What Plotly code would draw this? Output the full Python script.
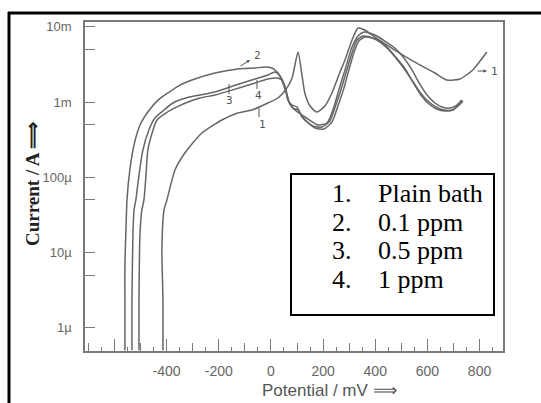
import plotly.graph_objects as go

# ---------------- data ----------------
potential_plain = [-414, -414, -418, -410, -399, -368, -330, -265, -188, -127, -73, -12, 27, 61, 81,
                   104, 119, 130, 150, 176, 207, 234, 265, 284, 311, 334, 360, 399, 475, 552, 629,
                   675, 725, 774, 828]
current_plain = [5.0e-7, 2.33e-6, 1.08e-5, 3.66e-5, 4.98e-5, 1.25e-4, 2.10e-4, 3.87e-4, 5.77e-4,
                 7.14e-4, 7.83e-4, 9.7e-4, 1.13e-3, 1.53e-3, 2.08e-3, 4.62e-3, 2.29e-3, 1.32e-3,
                 8.85e-4, 7.36e-4, 8.85e-4, 1.32e-3, 2.51e-3, 3.62e-3, 6.67e-3, 9.64e-3, 9.06e-3,
                 7.31e-3, 4.91e-3, 3.40e-3, 2.43e-3, 1.96e-3, 2.02e-3, 2.67e-3, 4.62e-3]

potential_01 = [-560, -560, -560, -556, -552, -541, -525, -502, -472, -433, -395, -349, -303, -215,
                -127, -61, -23, 4, 27, 46, 61, 73, 92, 130, 180, 215, 238, 257, 284, 311, 334, 357,
                399, 437, 475, 510, 541, 571, 602, 629, 656, 686, 713, 732]
current_01 = [5.0e-7, 2.3e-6, 6.8e-6, 1.99e-5, 4.98e-5, 1.25e-4, 2.68e-4, 4.94e-4, 7.36e-4, 1.06e-3,
              1.32e-3, 1.68e-3, 1.96e-3, 2.43e-3, 2.75e-3, 2.83e-3, 2.92e-3, 2.83e-3, 2.43e-3,
              1.79e-3, 1.24e-3, 9.4e-4, 7.83e-4, 6.32e-4, 4.94e-4, 5.26e-4, 7.83e-4, 1.32e-3,
              2.67e-3, 5.38e-3, 7.55e-3, 8.53e-3, 7.78e-3, 6.47e-3, 5.22e-3, 3.85e-3, 2.67e-3,
              1.73e-3, 1.20e-3, 9.7e-4, 8.6e-4, 8.3e-4, 9.1e-4, 1.06e-3]

potential_05 = [-533, -533, -529, -525, -518, -506, -491, -468, -445, -410, -376, -326, -272, -215,
                -146, -61, -12, 15, 35, 54, 65, 81, 100, 119, 161, 196, 226, 249, 272, 291, 311,
                330, 353, 380, 410, 445, 475, 510, 541, 571, 602, 633, 663, 694, 717, 736]
current_05 = [5.0e-7, 2.3e-6, 1.81e-5, 3.66e-5, 4.98e-5, 1.07e-4, 2.30e-4, 4.25e-4, 6.12e-4,
              7.83e-4, 9.7e-4, 1.13e-3, 1.24e-3, 1.36e-3, 1.63e-3, 2.02e-3, 2.29e-3, 2.51e-3,
              2.22e-3, 1.58e-3, 1.06e-3, 9.1e-4, 8.6e-4, 6.32e-4, 4.8e-4, 4.65e-4, 5.59e-4,
              9.1e-4, 1.58e-3, 2.67e-3, 4.49e-3, 6.67e-3, 7.55e-3, 7.31e-3, 6.67e-3, 5.38e-3,
              4.09e-3, 2.92e-3, 1.96e-3, 1.36e-3, 1.03e-3, 8.6e-4, 7.83e-4, 7.83e-4, 8.85e-4, 1.03e-3]

potential_1 = [-506, -506, -502, -495, -487, -479, -472, -452, -437, -403, -360, -318, -272, -215,
               -146, -61, -12, 23, 42, 58, 69, 84, 104, 127, 169, 203, 234, 257, 280, 299, 318,
               337, 360, 387, 418, 449, 479, 514, 544, 575, 606, 636, 667, 698, 721, 736]
current_1 = [5.0e-7, 2.3e-6, 1.81e-5, 3.66e-5, 4.98e-5, 1.07e-4, 2.30e-4, 4.25e-4, 5.77e-4, 7.14e-4,
             8.6e-4, 1.0e-3, 1.13e-3, 1.24e-3, 1.45e-3, 1.79e-3, 2.02e-3, 2.08e-3, 1.96e-3, 1.45e-3,
             1.0e-3, 8.3e-4, 7.83e-4, 5.94e-4, 4.51e-4, 4.37e-4, 5.42e-4, 8.85e-4, 1.53e-3, 2.67e-3,
             4.49e-3, 6.47e-3, 7.31e-3, 7.09e-3, 6.28e-3, 5.07e-3, 3.85e-3, 2.67e-3, 1.85e-3,
             1.24e-3, 9.4e-4, 8.07e-4, 7.59e-4, 7.83e-4, 9.1e-4, 1.03e-3]

legend_numbers = ["1.", "2.", "3.", "4."]
legend_labels = ["Plain bath", "0.1 ppm", "0.5 ppm", "1 ppm"]

x_major = [-600, -400, -200, 0, 200, 400, 600, 800]
x_major_text = ["", "-400", "-200", "0", "200", "400", "600", "800"]
x_mid = [-700, -500, -300, -100, 100, 300, 500, 700]
x_minor = list(range(-650, 900, 100))
y_major = [1e-6, 1e-5, 1e-4, 1e-3, 1e-2]
y_major_text = ["1µ", "10µ", "100µ", "1m", "10m"]
y_minor = [5e-6, 5e-5, 5e-4, 5e-3]
x_range = [-713, 890]
y_range_log = [-6.311, -1.936]

# ---------------- layout helpers (pixel -> paper) ----------------
W, H = 541, 403
L, R, T, B = 85, 503, 22, 351


def px(x):
    return (x - L) / (R - L)


def py(y):
    return (B - y) / (B - T)


LINE = dict(color="#666666", width=1.5)
AX = "#7a7a7a"

fig = go.Figure()
for xs, ys in [(potential_plain, current_plain), (potential_01, current_01),
               (potential_05, current_05), (potential_1, current_1)]:
    fig.add_trace(go.Scatter(x=xs, y=ys, mode="lines", line=dict(shape="spline", smoothing=0.6, **LINE),
                             showlegend=False, hoverinfo="skip"))
fig.add_trace(go.Scatter(x=[None], y=[None], xaxis="x2", showlegend=False, hoverinfo="skip"))

shapes = []
# outer black frame (top and left)
shapes.append(dict(type="line", xref="paper", yref="paper", x0=px(8), x1=px(541), y0=py(13), y1=py(13),
                   line=dict(color="black", width=3)))
shapes.append(dict(type="line", xref="paper", yref="paper", x0=px(9), x1=px(9), y0=py(12), y1=py(403),
                   line=dict(color="black", width=3)))
# legend box
shapes.append(dict(type="rect", xref="paper", yref="paper", x0=px(291), x1=px(494), y0=py(315), y1=py(174),
                   line=dict(color="black", width=2), fillcolor="white", layer="above"))
# small tick marks on curve labels
for (x0, ya, yb) in [(229, 84, 94), (257, 80, 89), (259, 108, 117)]:
    shapes.append(dict(type="line", xref="paper", yref="paper", x0=px(x0), x1=px(x0), y0=py(ya), y1=py(yb),
                       line=dict(color="#555", width=1)))

annotations = []
row_y = [193, 222, 250, 279]
for num, lab, yy in zip(legend_numbers, legend_labels, row_y):
    annotations.append(dict(xref="paper", yref="paper", x=px(330), y=py(yy), text=num, showarrow=False,
                            xanchor="left", yanchor="middle",
                            font=dict(family="Liberation Serif", size=26, color="black")))
    annotations.append(dict(xref="paper", yref="paper", x=px(376), y=py(yy), text=lab, showarrow=False,
                            xanchor="left", yanchor="middle",
                            font=dict(family="Liberation Serif", size=26, color="black")))

lab_font = dict(family="DejaVu Sans Mono", size=11, color="#555")
for t, xx, yy in [("2", 257, 56), ("3", 229, 101), ("4", 258, 96), ("1", 262, 124), ("1", 494, 72)]:
    annotations.append(dict(xref="paper", yref="paper", x=px(xx), y=py(yy), text=t, showarrow=False,
                            xanchor="center", yanchor="middle", font=lab_font))
# arrows to curve labels
annotations.append(dict(xref="paper", yref="paper", x=px(250), y=py(60), text="", showarrow=True,
                        ax=-11, ay=7, arrowhead=2, arrowsize=0.7, arrowwidth=1, arrowcolor="#555"))
annotations.append(dict(xref="paper", yref="paper", x=px(487), y=py(71), text="", showarrow=True,
                        ax=-11, ay=0, arrowhead=2, arrowsize=0.7, arrowwidth=1, arrowcolor="#555"))

# axis titles
annotations.append(dict(xref="paper", yref="paper", x=px(32), y=py(184), text="<b>Current / A ⟹</b>",
                        textangle=-90, showarrow=False, xanchor="center", yanchor="middle",
                        font=dict(family="Liberation Serif", size=19, color="#222")))
annotations.append(dict(xref="paper", yref="paper", x=px(329), y=py(390), text="Potential / mV ⟹",
                        showarrow=False, xanchor="center", yanchor="middle",
                        font=dict(family="Liberation Sans", size=17, color="#555")))

fig.update_layout(
    width=W, height=H, autosize=False,
    margin=dict(l=L, r=W - R, t=T, b=H - B, pad=0),
    paper_bgcolor="white", plot_bgcolor="white",
    xaxis=dict(range=x_range, showgrid=False, zeroline=False, showline=True, linecolor=AX, linewidth=1.5,
               mirror=True, ticks="inside", ticklen=12, tickwidth=1, tickcolor=AX,
               tickmode="array", tickvals=x_major, ticktext=x_major_text, ticklabelstandoff=6,
               tickfont=dict(family="Liberation Sans", size=14, color="#666"),
               minor=dict(tickmode="array", tickvals=x_minor, ticks="inside", ticklen=4, tickcolor=AX,
                          showgrid=False)),
    xaxis2=dict(range=x_range, overlaying="x", anchor="y", side="bottom", showgrid=False, zeroline=False,
                showline=False, ticks="inside", ticklen=8, tickwidth=1, tickcolor=AX,
                tickmode="array", tickvals=x_mid, showticklabels=False),
    yaxis=dict(type="log", range=y_range_log, showgrid=False, zeroline=False, showline=True, linecolor=AX,
               linewidth=1.5, mirror=True, ticks="inside", ticklen=10, tickwidth=1, tickcolor=AX,
               tickmode="array", tickvals=y_major, ticktext=y_major_text, ticklabelstandoff=9,
               tickfont=dict(family="Liberation Sans", size=13, color="#666"),
               minor=dict(tickmode="array", tickvals=y_minor, ticks="inside", ticklen=10, tickcolor=AX,
                          showgrid=False)),
    shapes=shapes, annotations=annotations,
)

fig.write_html("out.html", config={"displayModeBar": False},
               post_script="document.body.style.margin='0px';document.body.style.overflow='hidden';")
